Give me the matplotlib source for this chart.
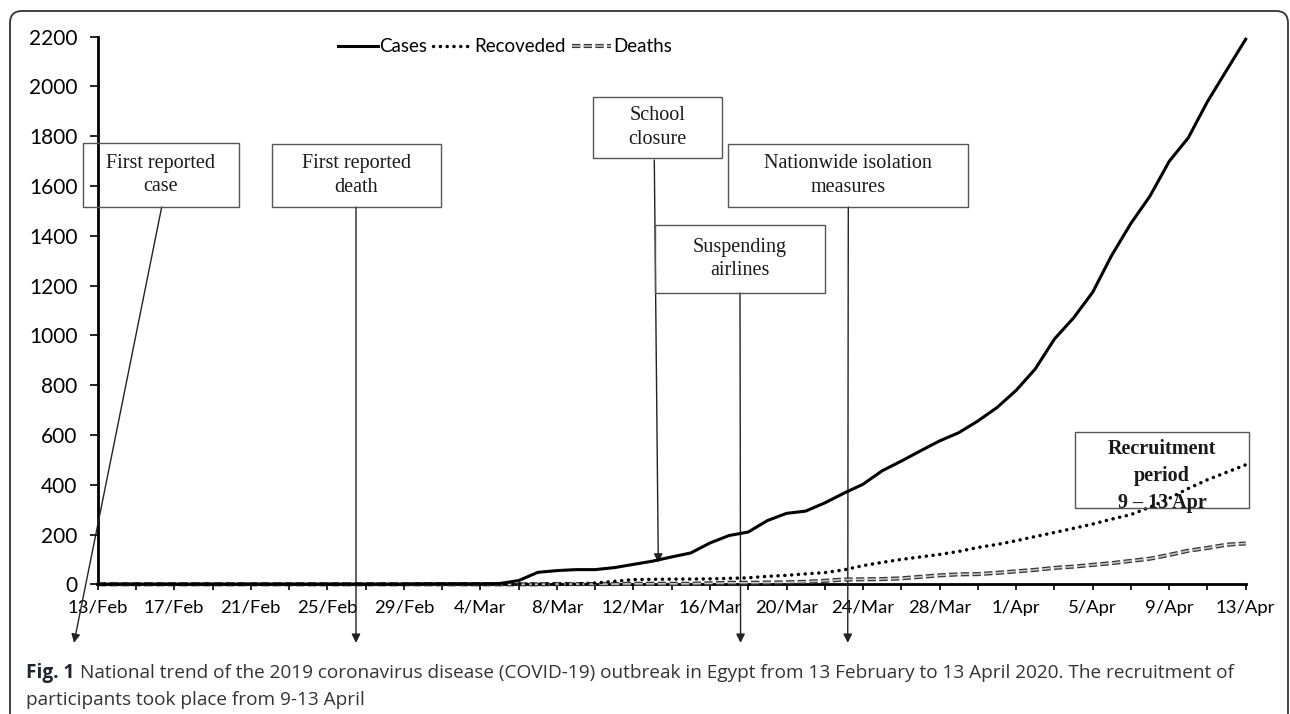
import matplotlib
matplotlib.use("Agg")
import matplotlib.pyplot as plt
import pandas as pd
from matplotlib.patches import Rectangle, FancyBboxPatch
from matplotlib.legend_handler import HandlerTuple

W, H = 1290, 714

# daily counts, 13 Feb - 13 Apr 2020
dates = pd.date_range("2020-02-13", "2020-04-13", freq="D")
cases = [0, 1, 1, 1, 1, 1, 1, 1, 1, 1, 1, 1, 1, 1, 1, 1, 1,
         2, 2, 2, 2, 3, 15, 48, 55, 59, 59, 67, 80, 93, 110, 126,
         166, 196, 210, 256, 285, 294, 327, 366, 402, 456, 495, 536,
         576, 609, 656, 710, 779, 865, 985, 1070, 1173, 1322, 1450,
         1560, 1699, 1794, 1939, 2065, 2190]
recovered = [0, 0, 0, 0, 0, 0, 0, 0, 0, 0, 0, 0, 0, 0, 0, 0, 0,
             1, 1, 1, 1, 1, 1, 1, 1, 1, 5, 12, 19, 20, 21, 21,
             22, 24, 26, 32, 36, 42, 47, 58, 75, 88, 100, 110,
             120, 132, 148, 160, 175, 192, 208, 225, 242, 262, 280,
             310, 345, 385, 420, 450, 480]
deaths = [0, 0, 0, 0, 0, 0, 0, 0, 0, 0, 0, 0, 0, 0, 0, 0, 0,
          0, 0, 0, 0, 0, 0, 0, 1, 1, 1, 1, 2, 2, 2, 2,
          4, 6, 6, 7, 8, 10, 14, 19, 20, 21, 24, 30,
          36, 40, 41, 46, 52, 58, 66, 71, 78, 85, 94,
          103, 118, 135, 146, 159, 164]
tick_labels = [f"{d.day}/{d.strftime('%b')}" for d in dates]

events = ["First reported\ncase", "First reported\ndeath", "School\nclosure",
          "Suspending\nairlines", "Nationwide isolation\nmeasures"]
event_day = [-1.24, 13.5, 29.3, 33.6, 39.2]
event_value = [None, None, 87, None, None]

# box layout in pixels (left, top, right, bottom), measured from the top
boxes = [(83, 143, 239, 207), (272, 144, 441, 207), (593, 97, 722, 158),
         (655, 225, 825, 293), (728, 144, 968, 207)]
arrow_start = [(161.7, 207), (356, 207), (654.3, 160), (740, 293), (848.3, 207)]


def inch(x, y):
    return x / 100, (H - y) / 100


plt.rcParams["lines.scale_dashes"] = False
plt.rcParams["font.family"] = ["Lato", "DejaVu Sans"]

fig = plt.figure(figsize=(W / 100, H / 100), dpi=100)
ax = fig.add_axes([97.7 / W, 1 - 584.3 / H, (1245.7 - 97.7) / W, (584.3 - 36.7) / H])

x = list(range(len(dates)))
d_dark, = ax.plot(x, deaths, color="#3a3a3a", lw=3.0, dashes=(6, 2.4), clip_on=False, zorder=3)
d_light, = ax.plot(x, deaths, color="#c8c8c8", lw=1.1, dashes=(6, 2.4), clip_on=False, zorder=3.1)
rec, = ax.plot(x, recovered, color="black", lw=2.5, linestyle=(0, (0.1, 4.8)),
               dash_capstyle="round", clip_on=False, zorder=4)
cas, = ax.plot(x, cases, color="black", lw=2.2, solid_joinstyle="round", clip_on=False, zorder=5)

ax.set_xlim(0, 60)
ax.set_ylim(0, 2200)
ax.set_yticks(range(0, 2201, 200))
ax.set_xticks(x[::4])
ax.set_xticklabels(tick_labels[::4])
ax.set_xticks(x[::2], minor=True)
for s in ("top", "right"):
    ax.spines[s].set_visible(False)
for s in ("left", "bottom"):
    ax.spines[s].set_linewidth(2.0)
ax.tick_params(axis="x", which="both", direction="out", length=4, width=1.2, pad=7, labelsize=13.3)
ax.tick_params(axis="y", direction="out", length=5.5, width=1.2, pad=9, labelsize=15)

fig.legend([cas, rec, (d_dark, d_light)], ["Cases", "Recoveded", "Deaths"],
           handler_map={tuple: HandlerTuple(ndivide=1, pad=0)},
           loc="center", bbox_to_anchor=(505 / W, 1 - 47 / H), ncol=3, frameon=False,
           handlelength=2.1, handletextpad=0.1, columnspacing=0.3, fontsize=13.5)

# event boxes and arrows
for label, (l, t, r, b), start, day, val in zip(events, boxes, arrow_start, event_day, event_value):
    x0, y0 = inch(l, b)
    x1, y1 = inch(r, t)
    fig.add_artist(Rectangle((x0, y0), x1 - x0, y1 - y0, transform=fig.dpi_scale_trans,
                             fill=False, ec="#555555", lw=1.0))
    fig.text((l + r) / 2 / W, 1 - (t + b) / 2 / H, label, ha="center", va="center",
             family="Liberation Serif", fontsize=14.5, linespacing=1.3, color="#1a1a1a")
    if val is None:
        xy, coords = (day, -0.107), ("data", "axes fraction")
    else:
        xy, coords = (day, val), "data"
    ax.annotate("", xy=xy, xycoords=coords, xytext=inch(*start), textcoords=fig.dpi_scale_trans,
                annotation_clip=False,
                arrowprops=dict(arrowstyle="-|>", color="#222222", lw=1.0, shrinkA=0, shrinkB=0,
                                mutation_scale=13))

# recruitment period box
x0, y0 = inch(1075, 508)
x1, y1 = inch(1249, 432)
fig.add_artist(Rectangle((x0, y0), x1 - x0, y1 - y0, transform=fig.dpi_scale_trans,
                         fill=False, ec="#555555", lw=1.0))
fig.text(1162 / W, 1 - 476 / H, "Recruitment\nperiod\n9 \u2013 13 Apr", ha="center", va="center",
         family="Liberation Serif", fontweight="bold", fontsize=14.5, linespacing=1.45,
         color="#1a1a1a")

# outer frame
fig.add_artist(FancyBboxPatch((0.10, -0.2), 12.78, 7.23, boxstyle="round,pad=0,rounding_size=0.12",
                              transform=fig.dpi_scale_trans, fill=False, ec="#333333", lw=1.3))

# caption
cap_font = ["Open Sans", "DejaVu Sans"]
fig_lbl = fig.text(26 / W, 1 - 673 / H, "Fig. 1", fontweight="bold", family=cap_font,
                   fontsize=13.7, va="center", color="#1f2430")
renderer = fig.canvas.get_renderer()
bb = fig_lbl.get_window_extent(renderer)
fig.text((bb.x1 + 6) / W, 1 - 673 / H,
         "National trend of the 2019 coronavirus disease (COVID-19) outbreak in Egypt from "
         "13 February to 13 April 2020. The recruitment of",
         family=cap_font, fontsize=13.7, va="center", color="#333333")
fig.text(26 / W, 1 - 700 / H, "participants took place from 9-13 April",
         family=cap_font, fontsize=13.7, va="center", color="#333333")

fig.savefig("out.png", dpi=100)
